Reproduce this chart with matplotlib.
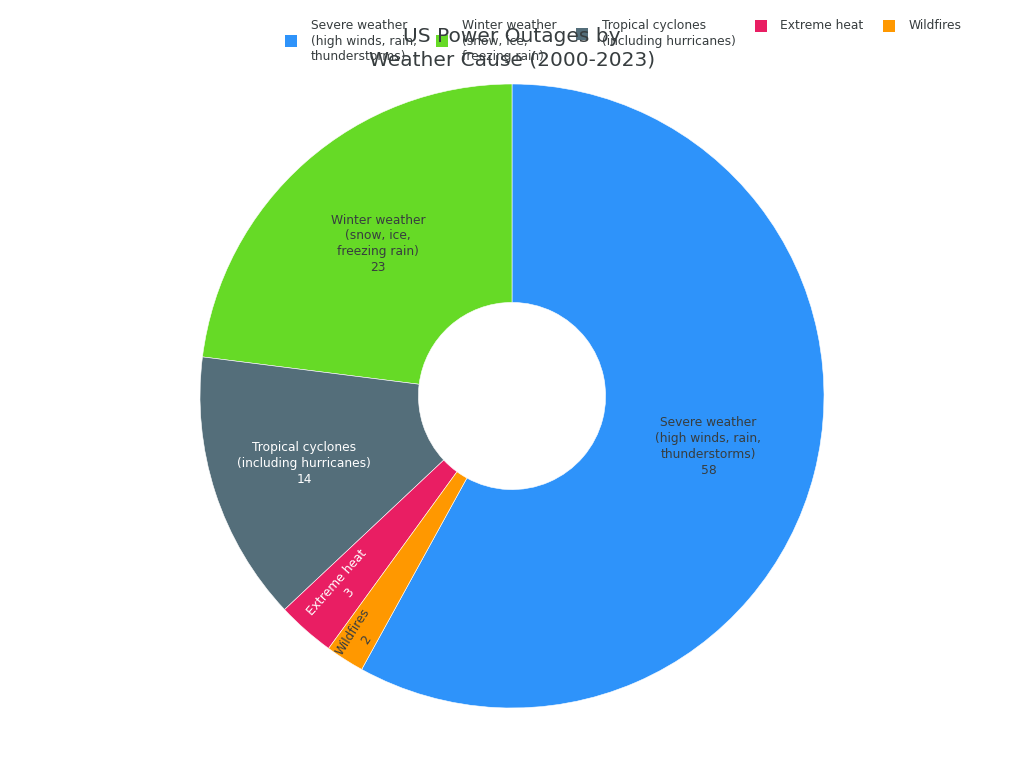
import numpy as np
import matplotlib.pyplot as plt
from matplotlib.patches import Rectangle

plt.rcParams['font.family'] = ['DejaVu Sans']

categories = [
    'Severe weather\n(high winds, rain,\nthunderstorms)',
    'Winter weather\n(snow, ice,\nfreezing rain)',
    'Tropical cyclones\n(including hurricanes)',
    'Extreme heat',
    'Wildfires',
]
values = [58, 23, 14, 3, 2]
colors = ['#2E93FA', '#66DA26', '#546E7A', '#E91E63', '#FF9800']
text_colors = ['#373d3f', '#373d3f', 'white', 'white', '#373d3f']
label_dist = [0.65, 0.65, 0.70, 0.82, 0.91]
radial = [False, False, False, True, True]

W, H = 1024, 768
fig = plt.figure(figsize=(W / 100, H / 100), dpi=100)
# pie area: center (512, 396), radius 312 px
r_px = 312
ax = fig.add_axes([(512 - r_px) / W, (H - 396 - r_px) / H, 2 * r_px / W, 2 * r_px / H])

total = sum(values)
start = 90 - 360 * values[0] / total
wedges, _ = ax.pie(values, colors=colors, startangle=start, counterclock=True,
                   radius=1.0, wedgeprops=dict(width=0.7, edgecolor='white', linewidth=0.4))
ax.set_xlim(-1, 1)
ax.set_ylim(-1, 1)
ax.set_aspect('equal')
ax.axis('off')

for w, lab, v, tc, d, rad in zip(wedges, categories, values, text_colors, label_dist, radial):
    ang = (w.theta1 + w.theta2) / 2
    x = d * np.cos(np.radians(ang))
    y = d * np.sin(np.radians(ang))
    rot = ang - 180 if rad else 0
    ax.text(x, y, f'{lab}\n{v}', ha='center', va='center', fontsize=8.8,
            color=tc, rotation=rot, rotation_mode='anchor', linespacing=1.28)

# legend drawn by hand so that the labels are top aligned like the reference
renderer = fig.canvas.get_renderer()
cursor = 285
top = 19
sq = 12
for lab, c in zip(categories, colors):
    n = lab.count('\n') + 1
    cy = 18.5 + 7.5 * n
    fig.patches.append(Rectangle((cursor / W, 1 - (cy + sq / 2) / H), sq / W, sq / H,
                                 transform=fig.transFigure, facecolor=c, edgecolor='none'))
    t = fig.text((cursor + sq + 14) / W, 1 - top / H, lab, ha='left', va='top', fontsize=8.8,
                 color='#373d3f', linespacing=1.25)
    width = t.get_window_extent(renderer).width
    cursor += sq + 14 + width + 19

fig.text(0.5, 1 - 48 / H, 'US Power Outages by\nWeather Cause (2000-2023)', ha='center',
         va='center', fontsize=14.5, color='#373d3f', linespacing=1.3)

fig.savefig('out.png', dpi=100)
